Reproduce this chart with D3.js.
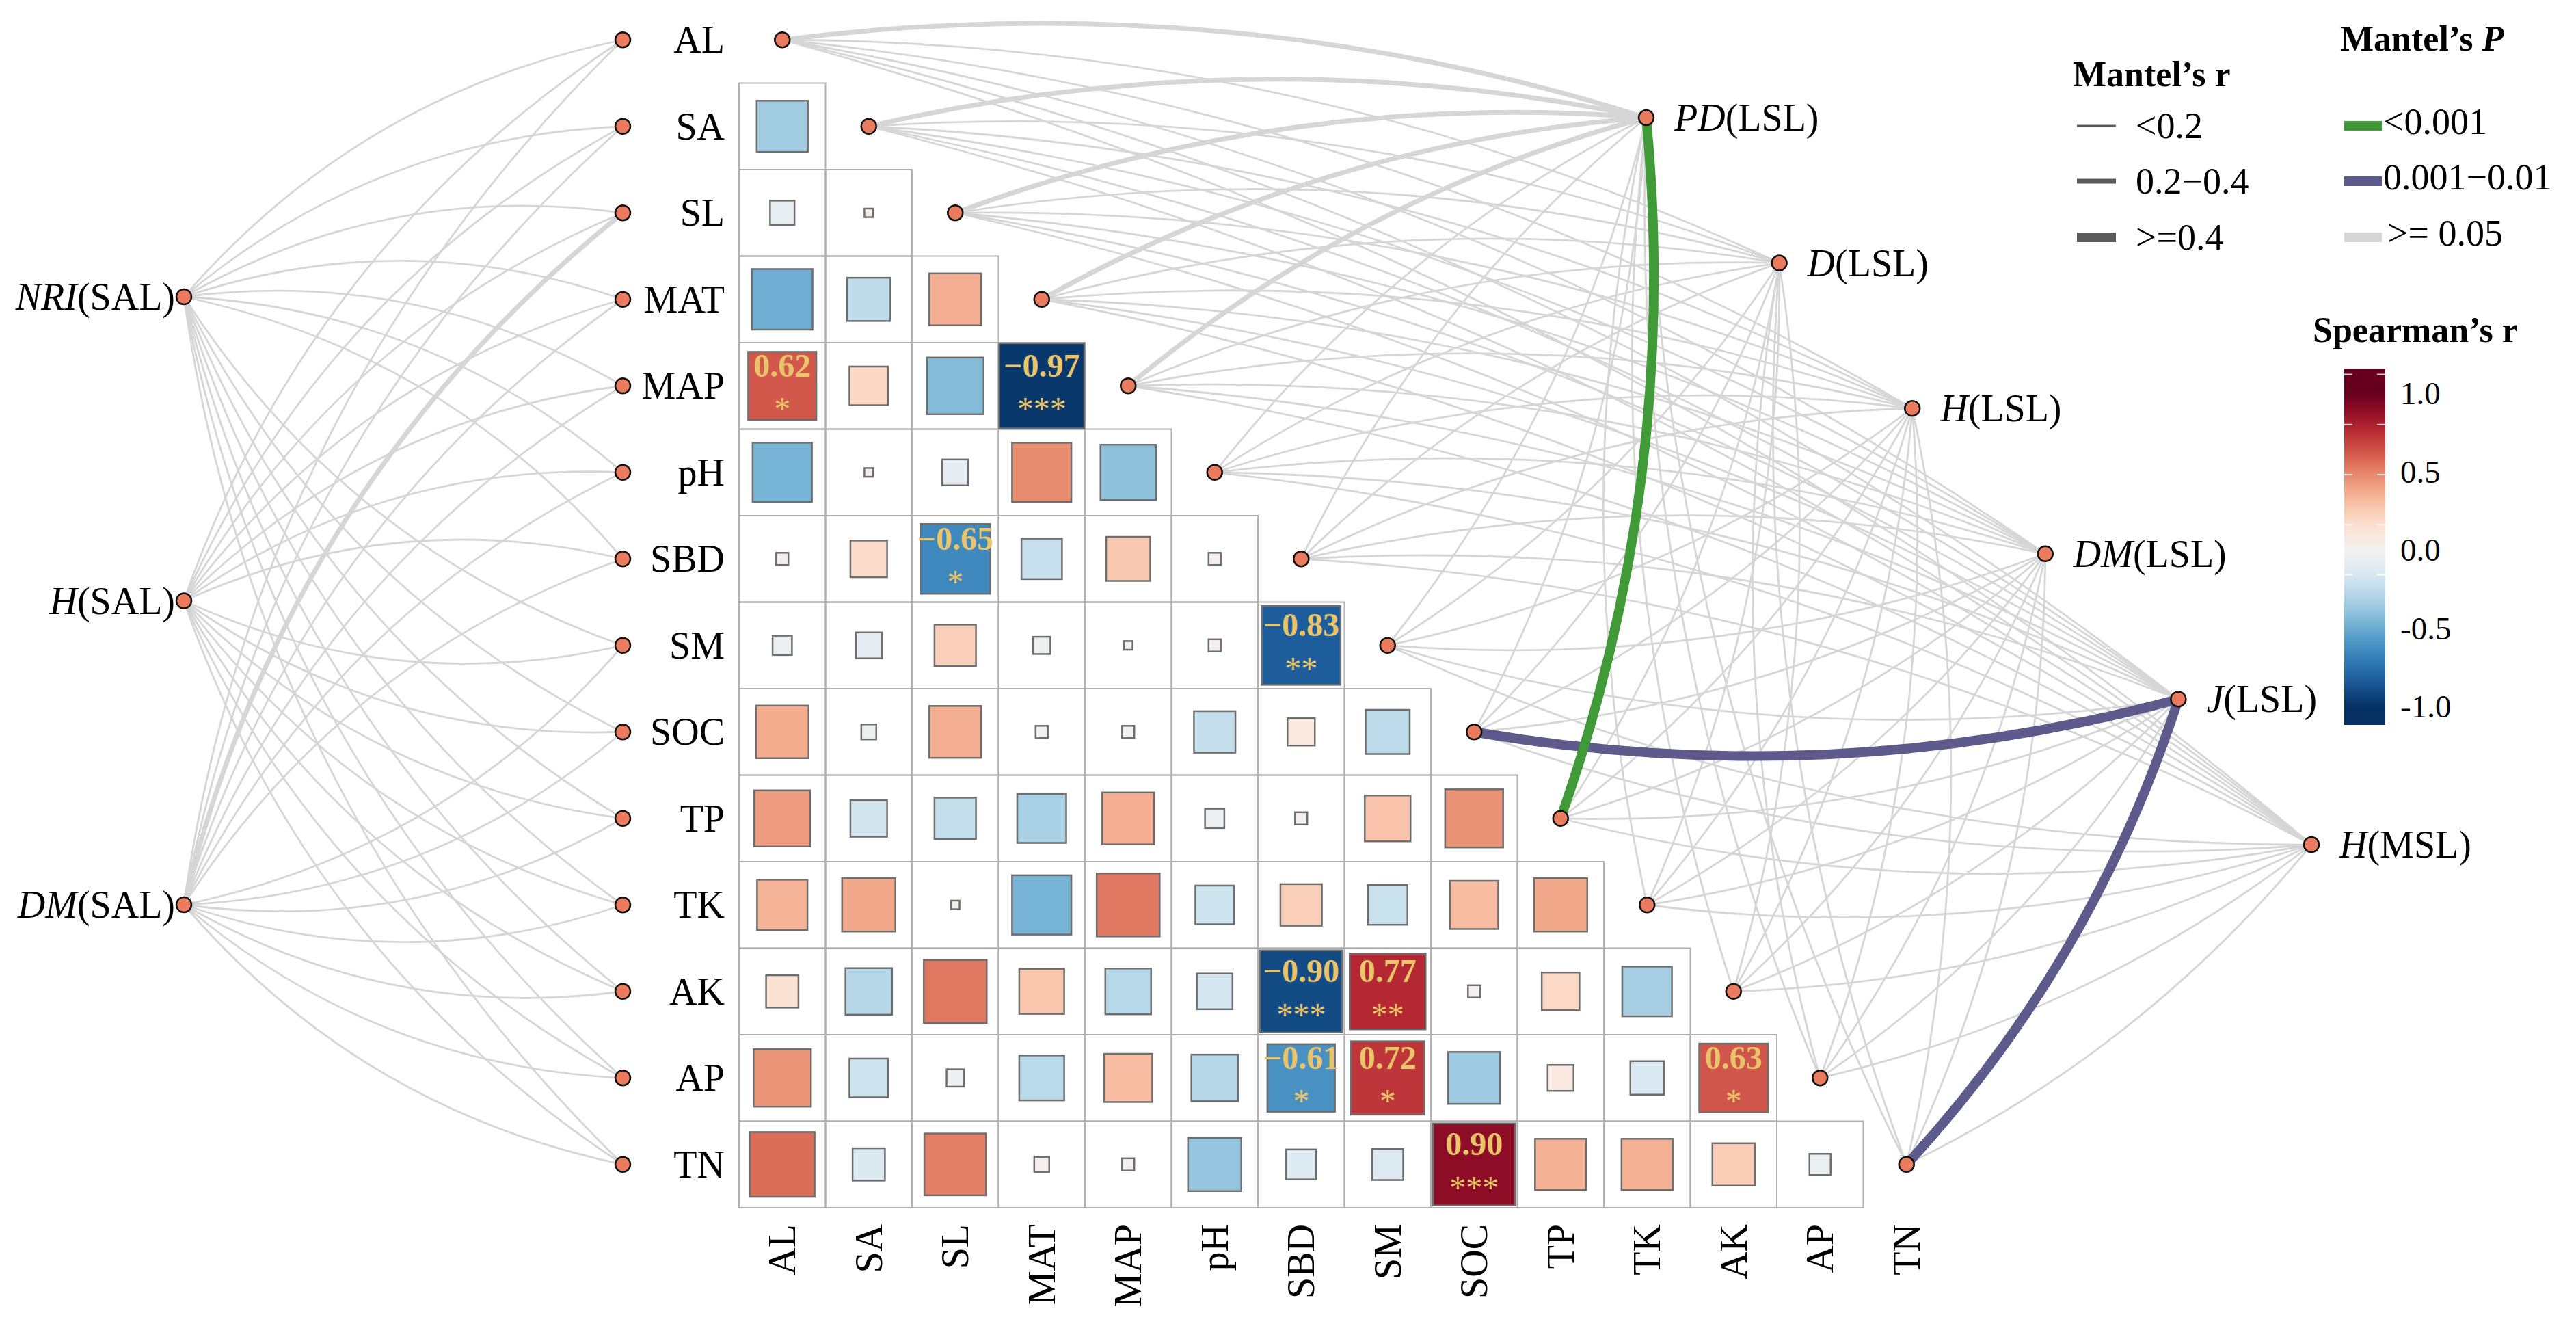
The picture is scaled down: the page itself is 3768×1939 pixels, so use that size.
<!DOCTYPE html>
<html>
<head>
<meta charset="utf-8">
<script src="https://cdn.jsdelivr.net/npm/d3@7"></script>
<style>
  body { margin: 0; background: #fff; }
</style>
</head>
<body>
<script>
// Environmental variables (matrix rows / columns)
const vars = ["AL", "SA", "SL", "MAT", "MAP", "pH", "SBD", "SM", "SOC", "TP", "TK", "AK", "AP", "TN"];

// Spearman's r, lower triangle: row i holds columns 0..i-1
const corrRows = [
  [],
  [-0.35],
  [-0.08, 0.01],
  [-0.49, -0.25, 0.36],
  [0.62, 0.20, -0.43, -0.97],
  [-0.47, 0.01, -0.09, 0.47, -0.41],
  [0.02, 0.18, -0.65, -0.22, 0.26, 0.02],
  [-0.05, -0.09, 0.23, -0.04, -0.01, 0.02, -0.83],
  [0.37, -0.03, 0.36, -0.02, 0.02, -0.23, 0.10, -0.26],
  [0.42, -0.18, -0.23, -0.32, 0.36, -0.05, 0.02, 0.28, 0.45],
  [0.34, 0.38, 0.01, -0.47, 0.53, -0.20, 0.23, -0.21, 0.31, 0.38],
  [0.14, -0.29, 0.53, 0.27, -0.28, -0.17, -0.90, 0.77, 0.02, 0.19, -0.33],
  [0.44, -0.20, -0.04, -0.27, 0.31, -0.29, -0.61, 0.72, -0.36, 0.09, -0.15, 0.63],
  [0.56, -0.14, 0.51, 0.03, 0.02, -0.38, -0.12, -0.13, 0.90, 0.35, 0.35, 0.24, -0.06]
];

// labelled (significant) cells
const sigRow = ["MAP", "MAP", "SBD", "SM", "AK", "AK", "AP", "AP", "AP", "TN"];
const sigCol = ["AL", "MAT", "SL", "SBD", "SBD", "SM", "SBD", "SM", "AK", "SOC"];
const sigMark = ["*", "***", "*", "**", "***", "**", "*", "*", "*", "***"];

// Mantel test nodes: [italic part, group]
const specLeft = [["NRI", "SAL"], ["H", "SAL"], ["DM", "SAL"]];
const specRight = [["PD", "LSL"], ["D", "LSL"], ["H", "LSL"], ["DM", "LSL"], ["J", "LSL"], ["H", "MSL"]];

// Mantel's r class per node (0: <0.2, 1: 0.2-0.4, 2: >=0.4), same order as vars
const mantelRLeft = [
  [0, 0, 0, 0, 0, 0, 0, 0, 0, 0, 0, 0, 0, 0],
  [0, 0, 0, 0, 0, 0, 0, 0, 0, 0, 0, 0, 0, 0],
  [0, 0, 1, 0, 0, 0, 0, 0, 0, 0, 0, 0, 0, 0]
];
const mantelRRight = [
  [1, 1, 1, 1, 1, 0, 0, 0, 0, 2, 0, 0, 0, 0],
  [0, 0, 0, 0, 0, 0, 0, 0, 0, 0, 0, 0, 0, 0],
  [0, 0, 0, 0, 0, 0, 0, 0, 0, 0, 0, 0, 0, 0],
  [0, 0, 0, 0, 0, 0, 0, 0, 0, 0, 0, 0, 0, 0],
  [0, 0, 0, 0, 0, 0, 0, 0, 2, 0, 0, 0, 0, 2],
  [0, 0, 0, 0, 0, 0, 0, 0, 0, 0, 0, 0, 0, 0]
];
// Mantel's P class per node (0: <0.001, 1: 0.001-0.01, 2: >=0.05)
const mantelPLeft = [
  [2, 2, 2, 2, 2, 2, 2, 2, 2, 2, 2, 2, 2, 2],
  [2, 2, 2, 2, 2, 2, 2, 2, 2, 2, 2, 2, 2, 2],
  [2, 2, 2, 2, 2, 2, 2, 2, 2, 2, 2, 2, 2, 2]
];
const mantelPRight = [
  [2, 2, 2, 2, 2, 2, 2, 2, 2, 0, 2, 2, 2, 2],
  [2, 2, 2, 2, 2, 2, 2, 2, 2, 2, 2, 2, 2, 2],
  [2, 2, 2, 2, 2, 2, 2, 2, 2, 2, 2, 2, 2, 2],
  [2, 2, 2, 2, 2, 2, 2, 2, 2, 2, 2, 2, 2, 2],
  [2, 2, 2, 2, 2, 2, 2, 2, 1, 2, 2, 2, 2, 1],
  [2, 2, 2, 2, 2, 2, 2, 2, 2, 2, 2, 2, 2, 2]
];

// legend texts
const rClassLabels = ["<0.2", "0.2\u22120.4", ">=0.4"];
const pClassLabels = ["<0.001", "0.001\u22120.01", ">= 0.05"];
const cbTicks = [1, 0.5, 0, -0.5, -1];
const cbTickLabels = ["1.0", "0.5", "0.0", "-0.5", "-1.0"];
const cbMarks = [1.12, 0.8, 0.48, 0.16, -0.16];

const W = 3768, H = 1939;
const cell = 126.5;
const serif = '"Liberation Serif", "Times New Roman", "DejaVu Serif", serif';
const pClassColors = ["#3f9a37", "#5d5a8c", "#d6d6d6"];
const rClassWidths = [2.8, 7, 14];
const dotFill = "#ea7b5e";
const sigColor = "#e9c46a";

const svg = d3.select("body").append("svg")
  .attr("width", W).attr("height", H)
  .attr("viewBox", `0 0 ${W} ${H}`)
  .attr("font-family", serif);

// scales
const x = d3.scaleBand().domain(vars).range([1081, 1081 + vars.length * cell]);
const y = d3.scaleBand().domain(vars).range([-5, -5 + vars.length * cell]);
const cx = (v) => x(v) + cell / 2;
const cy = (v) => y(v) + cell / 2;
const side = d3.scaleSqrt().domain([0, 1]).range([0, cell]);
const color = (r) => d3.interpolateRdBu((1 - Math.max(-1, Math.min(1, r))) / 2);
const midY = (cy(vars[0]) + cy(vars[vars.length - 1])) / 2;

const leftY = d3.scalePoint().domain(specLeft.map((d) => d.join())).range([434, 1323]);
const leftX = 269;
const rightX = d3.scalePoint().domain(specRight.map((d) => d.join())).range([2408, 3381]);
const rightY = d3.scalePoint().domain(specRight.map((d) => d.join())).range([172, 1235]);
const varLeftX = 911;

// curved link: bulges up for upper variables, down for lower ones
function curvePath(x1, y1, x2, y2, k) {
  const dx = x2 - x1, dy = y2 - y1, len = Math.hypot(dx, dy);
  let px = -dy / len, py = dx / len;
  const down = y2 > midY;
  if ((py > 0) !== down) { px = -px; py = -py; }
  const mx = (x1 + x2) / 2 + px * k * len;
  const my = (y1 + y2) / 2 + py * k * len;
  const p = d3.path();
  p.moveTo(x1, y1);
  p.quadraticCurveTo(mx, my, x2, y2);
  return p.toString();
}

// build links
const links = [];
specLeft.forEach((s, i) => {
  vars.forEach((v, j) => {
    links.push({
      x1: leftX, y1: leftY(s.join()), x2: varLeftX, y2: cy(v),
      r: mantelRLeft[i][j], p: mantelPLeft[i][j], k: 0.17
    });
  });
});
specRight.forEach((s, i) => {
  vars.forEach((v, j) => {
    links.push({
      x1: rightX(s.join()), y1: rightY(s.join()), x2: cx(v), y2: cy(v),
      r: mantelRRight[i][j], p: mantelPRight[i][j], k: 0.11
    });
  });
});
links.sort((a, b) => (b.p - a.p) || (a.r - b.r));

svg.append("g").attr("class", "links")
  .selectAll("path")
  .data(links)
  .enter()
  .append("path")
  .attr("d", (d) => curvePath(d.x1, d.y1, d.x2, d.y2, d.k))
  .attr("fill", "none")
  .attr("stroke", (d) => pClassColors[d.p])
  .attr("stroke-width", (d) => rClassWidths[d.r]);

// correlation cells
const cells = [];
corrRows.forEach((row, i) => {
  row.forEach((r, j) => cells.push({ row: vars[i], col: vars[j], r: r }));
});

const gm = svg.append("g").attr("class", "matrix");
gm.selectAll("rect.cell")
  .data(cells)
  .enter()
  .append("rect")
  .attr("class", "cell")
  .attr("x", (d) => x(d.col))
  .attr("y", (d) => y(d.row))
  .attr("width", cell)
  .attr("height", cell)
  .attr("fill", "none")
  .attr("stroke", "#b0b0b0")
  .attr("stroke-width", 2);

gm.selectAll("rect.sq")
  .data(cells)
  .enter()
  .append("rect")
  .attr("class", "sq")
  .attr("x", (d) => cx(d.col) - side(Math.abs(d.r)) / 2)
  .attr("y", (d) => cy(d.row) - side(Math.abs(d.r)) / 2)
  .attr("width", (d) => side(Math.abs(d.r)))
  .attr("height", (d) => side(Math.abs(d.r)))
  .attr("fill", (d) => color(d.r))
  .attr("stroke", "#6e6e6e")
  .attr("stroke-width", 2.5);

// significance labels
const sig = sigRow.map((rw, i) => ({
  row: rw, col: sigCol[i], mark: sigMark[i],
  r: corrRows[vars.indexOf(rw)][vars.indexOf(sigCol[i])]
}));
const fmt = d3.format(".2f");
gm.selectAll("text.val")
  .data(sig)
  .enter()
  .append("text")
  .attr("class", "val")
  .attr("x", (d) => cx(d.col))
  .attr("y", (d) => cy(d.row) - 30)
  .attr("text-anchor", "middle")
  .attr("dominant-baseline", "central")
  .attr("font-size", 48)
  .attr("font-weight", "bold")
  .attr("fill", sigColor)
  .text((d) => fmt(d.r));
gm.selectAll("text.star")
  .data(sig)
  .enter()
  .append("text")
  .attr("class", "star")
  .attr("x", (d) => cx(d.col))
  .attr("y", (d) => cy(d.row) + 50)
  .attr("text-anchor", "middle")
  .attr("font-size", 48)
  .attr("fill", sigColor)
  .text((d) => d.mark);

// row labels
svg.append("g").selectAll("text")
  .data(vars)
  .enter()
  .append("text")
  .attr("x", 1060)
  .attr("y", (d) => cy(d))
  .attr("text-anchor", "end")
  .attr("dominant-baseline", "central")
  .attr("font-size", 56)
  .text((d) => d);

// column labels (rotated)
svg.append("g").selectAll("text")
  .data(vars)
  .enter()
  .append("text")
  .attr("transform", (d) => `translate(${cx(d)},1790) rotate(-90)`)
  .attr("text-anchor", "end")
  .attr("dominant-baseline", "central")
  .attr("font-size", 56)
  .text((d) => d);

// dots
const dots = [];
vars.forEach((v) => {
  dots.push({ x: varLeftX, y: cy(v) });
  dots.push({ x: cx(v), y: cy(v) });
});
specLeft.forEach((s) => dots.push({ x: leftX, y: leftY(s.join()) }));
specRight.forEach((s) => dots.push({ x: rightX(s.join()), y: rightY(s.join()) }));
svg.append("g").selectAll("circle")
  .data(dots)
  .enter()
  .append("circle")
  .attr("cx", (d) => d.x)
  .attr("cy", (d) => d.y)
  .attr("r", 11)
  .attr("fill", dotFill)
  .attr("stroke", "#111")
  .attr("stroke-width", 2.5);

// node labels
function nodeLabel(g, s, xx, yy, anchor) {
  const t = g.append("text")
    .attr("x", xx).attr("y", yy)
    .attr("text-anchor", anchor)
    .attr("dominant-baseline", "central")
    .attr("font-size", 56);
  t.append("tspan").attr("font-style", "italic").text(s[0]);
  t.append("tspan").text(`(${s[1]})`);
}
const gl = svg.append("g");
specLeft.forEach((s) => nodeLabel(gl, s, leftX - 13, leftY(s.join()), "end"));
specRight.forEach((s) => nodeLabel(gl, s, rightX(s.join()) + 41, rightY(s.join()), "start"));

// legend: Mantel's r
const lg = svg.append("g").attr("class", "legend");
lg.append("text").attr("x", 3032).attr("y", 126)
  .attr("font-size", 52).attr("font-weight", "bold").text("Mantel\u2019s r");
const legY = [184, 265, 347];
rClassLabels.forEach((lab, i) => {
  lg.append("line").attr("x1", 3038).attr("x2", 3095)
    .attr("y1", legY[i]).attr("y2", legY[i])
    .attr("stroke", "#5a5a5a").attr("stroke-width", rClassWidths[i]);
  lg.append("text").attr("x", 3124).attr("y", legY[i])
    .attr("dominant-baseline", "central").attr("font-size", 54).text(lab);
});

// legend: Mantel's P
const pt = lg.append("text").attr("x", 3423).attr("y", 74)
  .attr("font-size", 52).attr("font-weight", "bold");
pt.append("tspan").text("Mantel\u2019s ");
pt.append("tspan").attr("font-style", "italic").text("P");
pClassLabels.forEach((lab, i) => {
  lg.append("line").attr("x1", 3429).attr("x2", 3484)
    .attr("y1", legY[i]).attr("y2", legY[i])
    .attr("stroke", pClassColors[i]).attr("stroke-width", 14);
  lg.append("text").attr("x", i === 2 ? 3492 : 3486).attr("y", legY[i] - 6)
    .attr("dominant-baseline", "central").attr("font-size", 54).text(lab);
});

// legend: Spearman's r colour bar
lg.append("text").attr("x", 3383).attr("y", 500)
  .attr("font-size", 52).attr("font-weight", "bold").text("Spearman\u2019s r");
const cbTop = 539, cbBottom = 1060, cbX = 3429, cbW = 60;
const cbScale = d3.scaleLinear().domain([-1, 1]).range([1033, 575]);
const grad = svg.append("defs").append("linearGradient")
  .attr("id", "cbgrad").attr("x1", 0).attr("x2", 0).attr("y1", 0).attr("y2", 1);
d3.range(0, 1.0001, 0.02).forEach((t) => {
  const v = cbScale.invert(cbTop + t * (cbBottom - cbTop));
  grad.append("stop").attr("offset", t).attr("stop-color", color(v));
});
lg.append("rect").attr("x", cbX).attr("y", cbTop)
  .attr("width", cbW).attr("height", cbBottom - cbTop)
  .attr("fill", "url(#cbgrad)");
cbMarks.forEach((v) => {
  const yy = cbScale(v);
  lg.append("line").attr("x1", cbX).attr("x2", cbX + 12).attr("y1", yy).attr("y2", yy)
    .attr("stroke", "#fff").attr("stroke-opacity", 0.8).attr("stroke-width", 2);
  lg.append("line").attr("x1", cbX + cbW - 12).attr("x2", cbX + cbW).attr("y1", yy).attr("y2", yy)
    .attr("stroke", "#fff").attr("stroke-opacity", 0.8).attr("stroke-width", 2);
});
cbTicks.forEach((v, i) => {
  lg.append("text").attr("x", 3511).attr("y", cbScale(v))
    .attr("dominant-baseline", "central").attr("font-size", 47).text(cbTickLabels[i]);
});
</script>
</body>
</html>
